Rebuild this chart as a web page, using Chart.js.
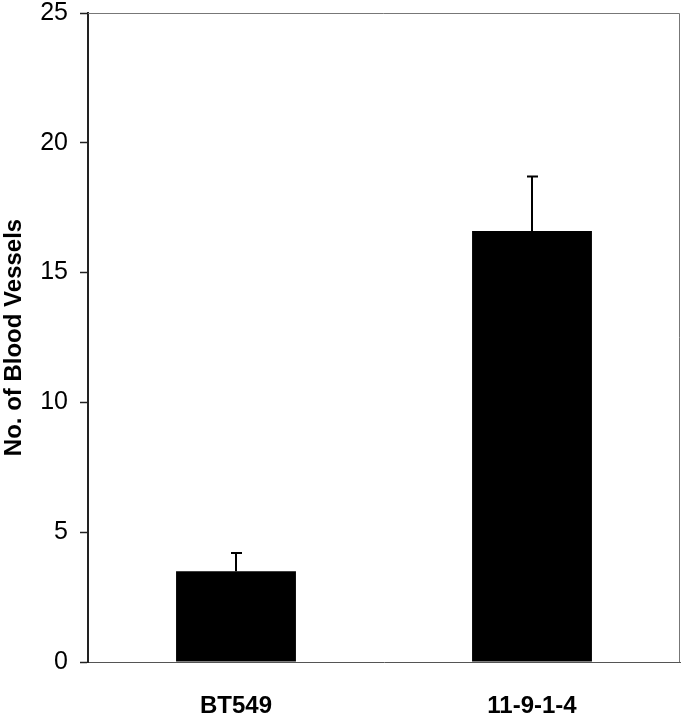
<!DOCTYPE html>
<html>
<head>
<meta charset="utf-8">
<script src="https://cdn.jsdelivr.net/npm/chart.js@4"></script>
<style>
  html, body { margin: 0; padding: 0; background: #fff; }
  #wrap { width: 683px; height: 719px; }
</style>
</head>
<body>
<div id="wrap"><canvas id="chart" width="683" height="719"></canvas></div>
<script>
const categories = ['BT549', '11-9-1-4']
const vessels = [3.5, 16.6]
const errors = [0.7, 2.1]
const yTicks = [0, 5, 10, 15, 20, 25]

const FONT = '"Liberation Sans", Arial, Helvetica, sans-serif'

// upper error bars only, like the original figure
const errorBars = {
  id: 'errorBars',
  afterDatasetsDraw(chart) {
    const { ctx, scales: { x, y } } = chart
    ctx.save()
    ctx.strokeStyle = '#000'
    ctx.lineWidth = 2
    vessels.forEach((v, i) => {
      const cx = x.getPixelForValue(i)
      const top = y.getPixelForValue(v + errors[i])
      const base = y.getPixelForValue(v)
      ctx.beginPath()
      ctx.moveTo(cx, base)
      ctx.lineTo(cx, top)
      ctx.moveTo(cx - 5, top)
      ctx.lineTo(cx + 6, top)
      ctx.stroke()
    })
    ctx.restore()
  }
}

// thin frame on top and right side of the plot
const frame = {
  id: 'frame',
  beforeDatasetsDraw(chart) {
    const { ctx, chartArea: a } = chart
    ctx.save()
    ctx.strokeStyle = '#777'
    ctx.lineWidth = 1
    ctx.beginPath()
    ctx.moveTo(a.left, a.top + 0.5)
    ctx.lineTo(a.right - 0.5, a.top + 0.5)
    ctx.lineTo(a.right - 0.5, a.bottom)
    ctx.stroke()
    ctx.restore()
  }
}

new Chart(document.getElementById('chart'), {
  type: 'bar',
  data: {
    labels: categories,
    datasets: [{
      data: vessels,
      backgroundColor: '#000',
      borderWidth: 0,
      barPercentage: 0.405,
      categoryPercentage: 1
    }]
  },
  options: {
    responsive: false,
    animation: false,
    layout: { padding: { top: 13, right: 3, left: 0, bottom: 0 } },
    plugins: { legend: { display: false }, tooltip: { enabled: false } },
    scales: {
      x: {
        grid: { display: false, drawTicks: false },
        border: { display: true, color: '#555', width: 1 },
        ticks: { color: '#000', padding: 30, font: { family: FONT, size: 24, weight: 'bold' } },
        afterFit(scale) { scale.height = 57 }
      },
      y: {
        min: 0, max: 25,
        afterBuildTicks(scale) { scale.ticks = yTicks.map(v => ({ value: v })) },
        grid: { drawOnChartArea: false, tickLength: 8, color: '#222', tickWidth: 1.5 },
        border: { display: true, color: '#222', width: 2 },
        ticks: { color: '#000', padding: 12, font: { family: FONT, size: 25 } },
        title: {
          display: true,
          text: 'No. of Blood Vessels',
          color: '#000',
          padding: 0,
          font: { family: FONT, size: 24, weight: 'bold' }
        },
        afterFit(scale) {
          scale.width = 88
          scale.paddingTop = 0
          scale.paddingBottom = 0
        }
      }
    }
  },
  plugins: [frame, errorBars]
})
</script>
</body>
</html>
